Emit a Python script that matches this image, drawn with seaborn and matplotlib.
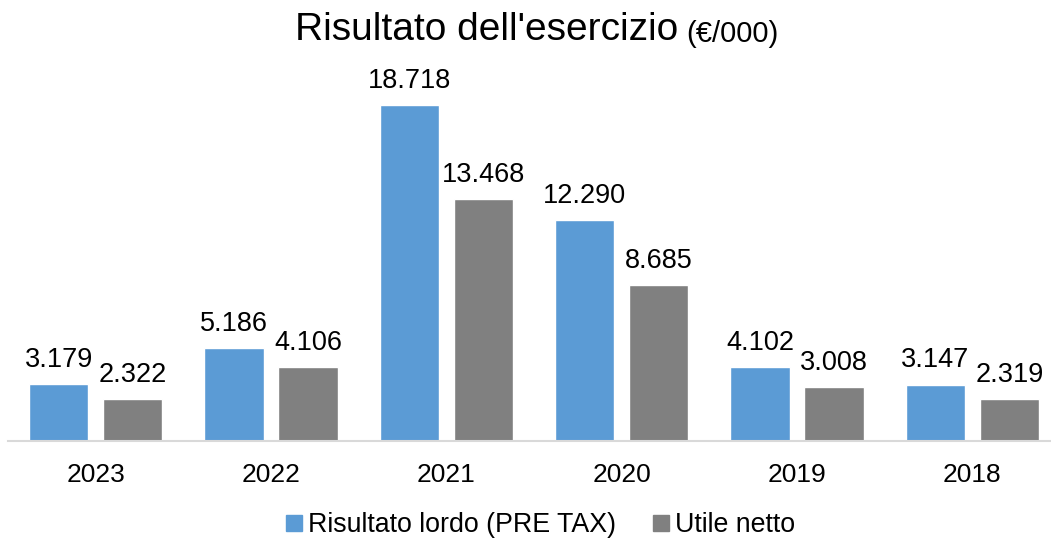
import pandas as pd
import seaborn as sns
import matplotlib.pyplot as plt

# Dati (€/000)
anni = ['2023', '2022', '2021', '2020', '2019', '2018']
risultato_lordo = [3179, 5186, 18718, 12290, 4102, 3147]
utile_netto = [2322, 4106, 13468, 8685, 3008, 2319]
serie = ['Risultato lordo (PRE TAX)', 'Utile netto']
colori = ['#5B9BD5', '#808080']

df = pd.DataFrame({
    'Anno': anni * 2,
    'Valore': risultato_lordo + utile_netto,
    'Serie': [serie[0]] * len(anni) + [serie[1]] * len(anni),
})

sns.set_style('white')
plt.rcParams['font.family'] = ['Liberation Sans', 'DejaVu Sans']
plt.rcParams['text.color'] = 'black'
plt.rcParams['xtick.color'] = 'black'

fig = plt.figure(figsize=(10.51, 5.40), dpi=100)
ax = fig.add_axes([8 / 1051, 99 / 540, 1052 / 1051, 359 / 540])

sns.barplot(data=df, x='Anno', y='Valore', hue='Serie', palette=colori,
            order=anni, hue_order=serie, width=0.844, gap=0.2, saturation=1,
            ax=ax, legend=False)

ax.set_ylim(0, 20000)
ax.set_xlim(-0.5, len(anni) - 0.5)

# etichette dati con separatore delle migliaia "."
for cont in ax.containers:
    etichette = [f'{int(v):,}'.replace(',', '.') for v in cont.datavalues]
    ax.bar_label(cont, labels=etichette, padding=8, fontsize=19.5, color='black')

ax.set_xlabel('')
ax.set_ylabel('')
ax.set_yticks([])
ax.tick_params(axis='x', length=0, labelsize=19, pad=16, labelcolor='black')
for s in ['top', 'left', 'right']:
    ax.spines[s].set_visible(False)
ax.spines['bottom'].set_color('#d9d9d9')
ax.spines['bottom'].set_linewidth(1.5)

# titolo con due dimensioni di carattere
t = fig.text(678 / 1051, 1 - 40 / 540, "Risultato dell'esercizio",
             fontsize=28, ha='right', va='baseline')
ax.annotate('(€/000)', xy=(1, 0), xycoords=t, xytext=(6, 0),
            textcoords='offset points', fontsize=21, ha='left', va='bottom',
            annotation_clip=False)

# legenda in basso
handles = [plt.Line2D([], [], marker='s', linestyle='', color=c, markersize=11)
           for c in colori]
fig.legend(handles, serie, loc='center', bbox_to_anchor=(538 / 1051, 1 - 525 / 540),
           ncol=2, frameon=False, fontsize=19.3, handletextpad=0.0,
           columnspacing=1.2, handlelength=1.0)

fig.savefig('out.png', dpi=100)
